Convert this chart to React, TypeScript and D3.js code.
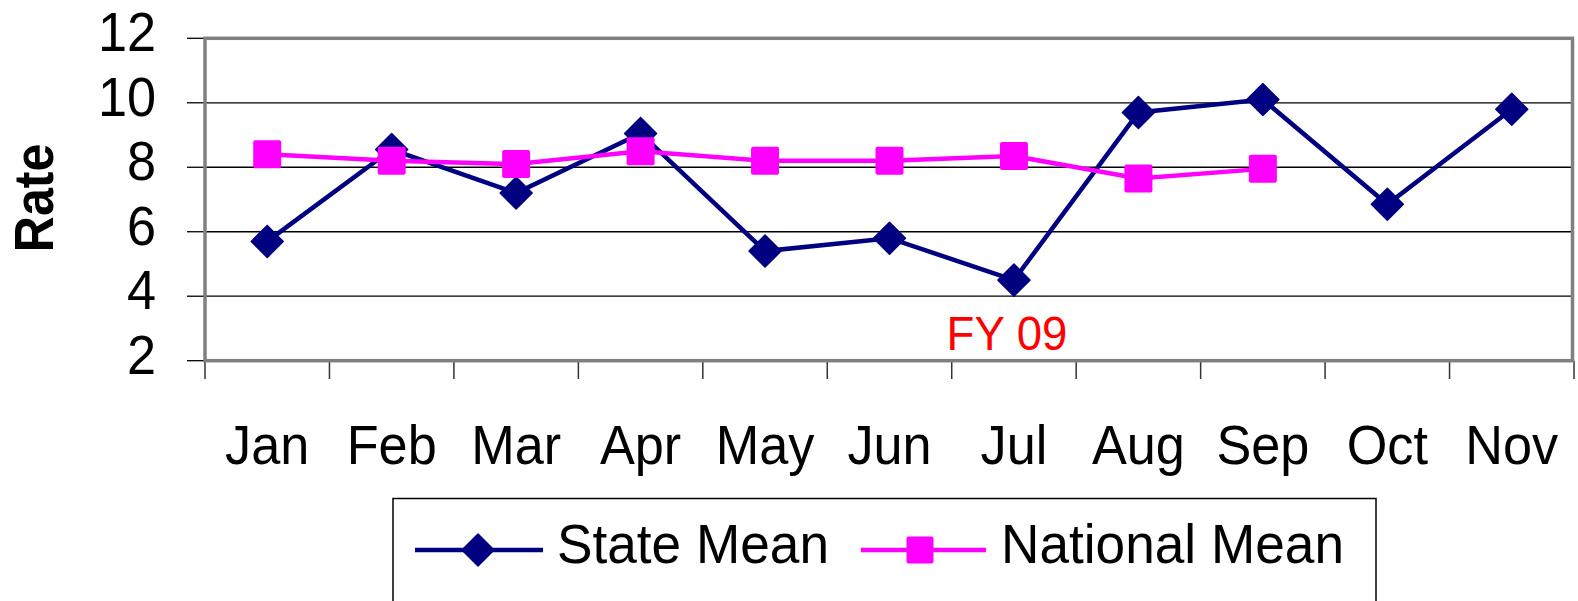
import * as d3 from 'd3';
import React, { useRef, useEffect } from 'react';

const months = ['Jan', 'Feb', 'Mar', 'Apr', 'May', 'Jun', 'Jul', 'Aug', 'Sep', 'Oct', 'Nov'];
const stateMean = [5.7, 8.55, 7.2, 9.05, 5.4, 5.8, 4.5, 9.7, 10.1, 6.85, 9.8];
const nationalMean = [8.4, 8.2, 8.1, 8.5, 8.2, 8.2, 8.35, 7.65, 7.95];
const yTicks = [2, 4, 6, 8, 10, 12];

const App = () => {
    const ref = useRef(null);

    useEffect(() => {
        const svg = d3.select(ref.current);
        svg.selectAll('*').remove();

        const font = '"Liberation Sans", Arial, sans-serif';
        const left = 205, right = 1574, top = 38.3, bottom = 360.7;
        const sx = 0.95; // text in the original is a little condensed

        // scales
        const x = d3.scaleBand().domain(months).range([left, right]);
        const y = d3.scaleLinear().domain([2, 12]).range([bottom, top]);
        const cx = (m) => x(m) + x.bandwidth() / 2;

        // gridlines
        svg.append('g')
            .selectAll('line')
            .data(yTicks.filter(d => d > 2 && d < 12))
            .enter().append('line')
            .attr('x1', left).attr('x2', right)
            .attr('y1', d => y(d)).attr('y2', d => y(d))
            .attr('stroke', '#000').attr('stroke-width', 1.3);

        // y axis ticks + labels
        const yg = svg.append('g');
        yg.selectAll('line')
            .data(yTicks)
            .enter().append('line')
            .attr('x1', 187).attr('x2', left)
            .attr('y1', d => y(d)).attr('y2', d => y(d))
            .attr('stroke', '#000').attr('stroke-width', 1.3);
        yg.selectAll('text')
            .data(yTicks)
            .enter().append('text')
            .attr('transform', d => `translate(156, ${y(d) + 13}) scale(${sx}, 1)`)
            .attr('text-anchor', 'end')
            .attr('font-family', font).attr('font-size', 55)
            .text(d => d);

        // x axis ticks + labels
        const xg = svg.append('g');
        xg.selectAll('line')
            .data([...months.map(m => x(m)), right])
            .enter().append('line')
            .attr('x1', d => d).attr('x2', d => d)
            .attr('y1', bottom).attr('y2', 379)
            .attr('stroke', '#333').attr('stroke-width', 1.5);
        xg.selectAll('text')
            .data(months)
            .enter().append('text')
            .attr('transform', d => `translate(${cx(d)}, 464) scale(${sx}, 1)`)
            .attr('text-anchor', 'middle')
            .attr('font-family', font).attr('font-size', 55)
            .text(d => d);

        // plot border
        svg.append('rect')
            .attr('x', left).attr('y', top)
            .attr('width', right - left - 1.5).attr('height', bottom - top)
            .attr('fill', 'none')
            .attr('stroke', '#808080').attr('stroke-width', 3.5);

        // axis title
        svg.append('text')
            .attr('transform', 'translate(53, 198) rotate(-90) scale(0.91, 1)')
            .attr('text-anchor', 'middle')
            .attr('font-family', font).attr('font-size', 55).attr('font-weight', 'bold')
            .text('Rate');

        svg.append('text')
            .attr('transform', `translate(1007, 350) scale(${sx}, 1)`)
            .attr('text-anchor', 'middle')
            .attr('font-family', font).attr('font-size', 48)
            .attr('fill', '#ff0000')
            .text('FY 09');

        const diamond = (g, px, py, r) =>
            g.append('path')
                .attr('d', `M${px},${py - r}L${px + r},${py}L${px},${py + r}L${px - r},${py}Z`)
                .attr('fill', '#000080')
                .attr('stroke', '#000080').attr('stroke-width', 1.5).attr('stroke-linejoin', 'round');
        const square = (g, px, py, s) =>
            g.append('rect')
                .attr('x', px - s / 2).attr('y', py - s / 2)
                .attr('width', s).attr('height', s).attr('rx', 2)
                .attr('fill', '#ff00ff');

        const line = d3.line().x(d => cx(d[0])).y(d => y(d[1]));
        const stateData = months.map((m, i) => [m, stateMean[i]]);
        const nationalData = nationalMean.map((v, i) => [months[i], v]);

        // state series
        const sg = svg.append('g');
        sg.append('path')
            .attr('d', line(stateData))
            .attr('fill', 'none')
            .attr('stroke', '#000080').attr('stroke-width', 4.5);
        stateData.forEach(d => diamond(sg, cx(d[0]), y(d[1]), 16));

        // national series
        const ng = svg.append('g');
        ng.append('path')
            .attr('d', line(nationalData))
            .attr('fill', 'none')
            .attr('stroke', '#ff00ff').attr('stroke-width', 4.5);
        nationalData.forEach(d => square(ng, cx(d[0]), y(d[1]), 28));

        // legend
        const lg = svg.append('g');
        lg.append('rect')
            .attr('x', 393).attr('y', 498.5)
            .attr('width', 983).attr('height', 130)
            .attr('fill', 'none')
            .attr('stroke', '#000').attr('stroke-width', 1.5);
        lg.append('line')
            .attr('x1', 415).attr('x2', 543).attr('y1', 550).attr('y2', 550)
            .attr('stroke', '#000080').attr('stroke-width', 4.5);
        diamond(lg, 478, 550, 16);
        lg.append('text')
            .attr('transform', `translate(557, 563) scale(${sx}, 1)`)
            .attr('font-family', font).attr('font-size', 56)
            .text('State Mean');
        lg.append('line')
            .attr('x1', 861).attr('x2', 986).attr('y1', 550).attr('y2', 550)
            .attr('stroke', '#ff00ff').attr('stroke-width', 4.5);
        square(lg, 920, 550, 27);
        lg.append('text')
            .attr('transform', `translate(1001, 563) scale(${sx}, 1)`)
            .attr('font-family', font).attr('font-size', 56)
            .text('National Mean');
    }, []);

    return (
        <svg ref={ref} width={1578} height={601}
            style={{ position: 'absolute', left: 0, top: 0, background: '#fff' }}>
        </svg>
    );
};

export default App;
